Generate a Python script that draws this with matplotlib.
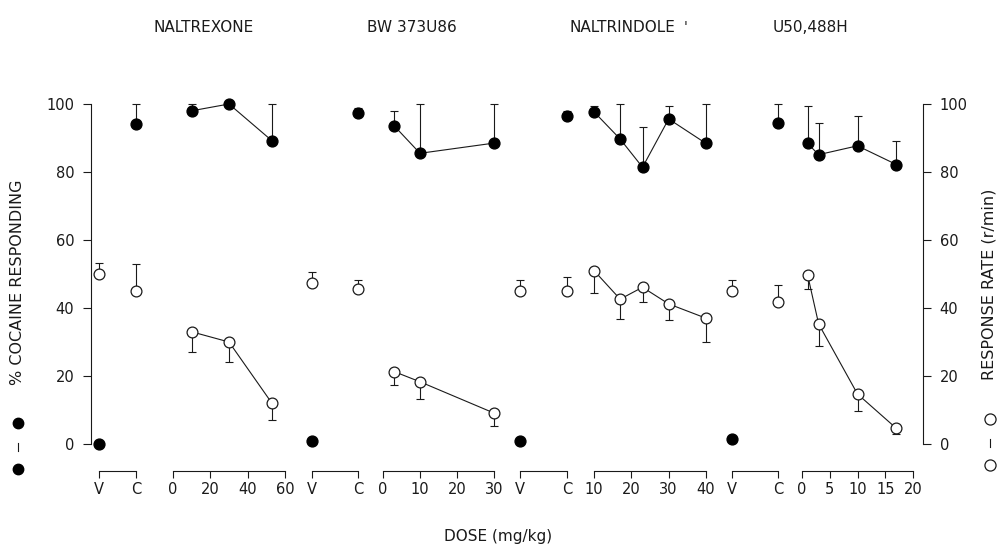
import matplotlib
matplotlib.use("Agg")
import matplotlib.pyplot as plt
from matplotlib.lines import Line2D

# drug names shown over each panel
drugs = ["NALTREXONE", "BW 373U86", "NALTRINDOLE", "U50,488H"]

# vehicle (V) / cocaine (C) control points, one pair per drug
vc_cocaine = [[0, 94], [1, 97.5], [1, 96.5], [1.5, 94.5]]
vc_cocaine_top = [[0, 100], [1, 98.8], [1, 98], [1.5, 100]]
vc_rate = [[50, 45], [47.4, 45.6], [44.9, 44.9], [44.9, 41.7]]
vc_rate_top = [[53.2, 53], [50.6, 48.3], [48.3, 49], [48.2, 46.8]]

# dose-effect data
naltrexone_dose = [10, 30, 53]
naltrexone_cocaine = [98, 100, 89.2]
naltrexone_cocaine_top = [100, 100, 100]
naltrexone_rate = [33, 30, 12]
naltrexone_rate_low = [27, 24, 7]

bw_dose = [3, 10, 30]
bw_cocaine = [93.6, 85.5, 88.5]
bw_cocaine_top = [98, 100, 100]
bw_rate = [21.3, 18.3, 9.1]
bw_rate_low = [17.4, 13.2, 5.2]

naltrindole_dose = [10, 17, 23, 30, 40]
naltrindole_cocaine = [97.7, 89.7, 81.4, 95.6, 88.4]
naltrindole_cocaine_top = [99.5, 100, 93.3, 99.3, 100]
naltrindole_rate = [51, 42.6, 46.1, 41.2, 37]
naltrindole_rate_low = [44.4, 36.8, 41.9, 36.6, 30.1]

u50_dose = [1, 3, 10, 17]
u50_cocaine = [88.4, 85.1, 87.7, 82.2]
u50_cocaine_top = [99.3, 94.3, 96.4, 89.1]
u50_rate = [49.8, 35.3, 14.7, 4.6]
u50_rate_low = [45.6, 28.9, 9.8, 2.9]

dose_ticks = [[0, 20, 40, 60], [0, 10, 20, 30], [10, 20, 30, 40], [0, 5, 10, 15, 20]]
y_ticks = [0, 20, 40, 60, 80, 100]

dose_sets = [
    (naltrexone_dose, naltrexone_cocaine, naltrexone_cocaine_top, naltrexone_rate, naltrexone_rate_low),
    (bw_dose, bw_cocaine, bw_cocaine_top, bw_rate, bw_rate_low),
    (naltrindole_dose, naltrindole_cocaine, naltrindole_cocaine_top, naltrindole_rate, naltrindole_rate_low),
    (u50_dose, u50_cocaine, u50_cocaine_top, u50_rate, u50_rate_low),
]

W, H = 997, 554
fig = plt.figure(figsize=(W / 100, H / 100), dpi=100)
ink = "#1a1a1a"
plt.rcParams['font.family'] = ['DejaVu Sans']

y_bot_px, y0_px, y100_px = 471, 444, 104
ymin = -(y_bot_px - y0_px) / ((y0_px - y100_px) / 100)


def pos(x0, x1):
    return [x0 / W, 1 - y_bot_px / H, (x1 - x0) / W, (y_bot_px - y100_px) / H]


# frame with the two y axes
frame = fig.add_axes(pos(91, 923))
frame.set_ylim(ymin, 100)
frame.set_xticks([])
frame.patch.set_visible(False)
for s in ["top", "bottom", "right"]:
    frame.spines[s].set_visible(False)
frame.spines["left"].set_bounds(0, 100)
frame.spines["left"].set_linewidth(0.8)
frame.spines["left"].set_color(ink)
frame.set_yticks(y_ticks)
frame.tick_params(axis="y", direction="out", length=6, width=0.8, pad=6,
                  labelsize=10.5, colors=ink)
right = frame.twinx()
right.set_ylim(ymin, 100)
right.patch.set_visible(False)
for s in ["top", "bottom", "left"]:
    right.spines[s].set_visible(False)
right.spines["right"].set_bounds(0, 100)
right.spines["right"].set_linewidth(0.8)
right.spines["right"].set_color(ink)
right.set_yticks(y_ticks)
right.tick_params(axis="y", direction="out", length=6, width=0.8, pad=6,
                  labelsize=10.5, colors=ink)

vc_px = [(99, 136), (312, 358), (520, 567), (732, 778)]
dose_px = [(173, 285), (383, 494), (594, 706), (802, 913)]
title_x = [204, 412, 622, 810]


def segment(x0, x1, xlim, ticks, labels):
    ax = fig.add_axes(pos(x0, x1))
    ax.set_xlim(*xlim)
    ax.set_ylim(ymin, 100)
    ax.patch.set_visible(False)
    for s in ["top", "left", "right"]:
        ax.spines[s].set_visible(False)
    ax.spines["bottom"].set_linewidth(0.8)
    ax.spines["bottom"].set_color(ink)
    ax.set_yticks([])
    ax.set_xticks(ticks)
    ax.set_xticklabels(labels)
    ax.tick_params(axis="x", direction="out", length=5, width=0.8, pad=3,
                   labelsize=10.5, colors=ink)
    return ax


def draw(ax, x, cocaine, cocaine_top, rate, err_lo, err_hi, joined):
    ls = "-" if joined else "none"
    ax.errorbar(x, cocaine, yerr=[[0] * len(x), [t - v for t, v in zip(cocaine_top, cocaine)]],
                fmt="none", ecolor=ink, elinewidth=0.8, capsize=3, capthick=0.8,
                zorder=1, clip_on=False)
    ax.errorbar(x, rate, yerr=[err_lo, err_hi], fmt="none", ecolor=ink,
                elinewidth=0.8, capsize=3, capthick=0.8, zorder=1, clip_on=False)
    ax.plot(x, cocaine, ls=ls, lw=0.8, color=ink, marker="o", ms=7.8,
            mfc="black", mec="black", zorder=3, clip_on=False)
    ax.plot(x, rate, ls=ls, lw=0.8, color=ink, marker="o", ms=7.8,
            mfc="white", mec=ink, mew=0.9, zorder=3, clip_on=False)


for i in range(4):
    vc = segment(*vc_px[i], (0, 1), [0, 1], ["V", "C"])
    rate_hi = [t - v for t, v in zip(vc_rate_top[i], vc_rate[i])]
    draw(vc, [0, 1], vc_cocaine[i], vc_cocaine_top[i], vc_rate[i], [0, 0], rate_hi, False)

    d, coc, coc_top, rate, rate_low = dose_sets[i]
    ticks = dose_ticks[i]
    ds = segment(*dose_px[i], (ticks[0], ticks[-1]), ticks, [str(t) for t in ticks])
    rate_lo = [v - l for v, l in zip(rate, rate_low)]
    draw(ds, d, coc, coc_top, rate, rate_lo, [0] * len(d), True)

    fig.text(title_x[i] / W, 1 - 28 / H, drugs[i], ha="center", va="center",
             fontsize=11, color=ink)

fig.text(686 / W, 1 - 27 / H, "'", ha="center", va="center", fontsize=10, color=ink)

# axis titles
fig.text(18 / W, 1 - 282 / H, "% COCAINE RESPONDING", rotation=90,
         ha="center", va="center", fontsize=11.5, color=ink)
fig.text(989 / W, 1 - 284 / H, "RESPONSE RATE (r/min)", rotation=90,
         ha="center", va="center", fontsize=11.5, color=ink)
fig.text(498 / W, 1 - 537 / H, "DOSE (mg/kg)", ha="center", va="center",
         fontsize=11, color=ink)

# symbol keys next to the axis titles
for y in (423, 469):
    fig.add_artist(Line2D([18 / W], [1 - y / H], marker="o", ms=7.5, mfc="black",
                          mec="black", ls="none", transform=fig.transFigure))
    fig.add_artist(Line2D([990 / W], [1 - (y - 4) / H], marker="o", ms=8, mfc="white",
                          mec=ink, mew=0.9, ls="none", transform=fig.transFigure))
fig.add_artist(Line2D([18 / W, 18 / W], [1 - 443 / H, 1 - 451 / H], lw=0.8,
                      color=ink, transform=fig.transFigure))
fig.add_artist(Line2D([990 / W, 990 / W], [1 - 439 / H, 1 - 447 / H], lw=0.8,
                      color=ink, transform=fig.transFigure))

fig.savefig("out.png", dpi=100)
